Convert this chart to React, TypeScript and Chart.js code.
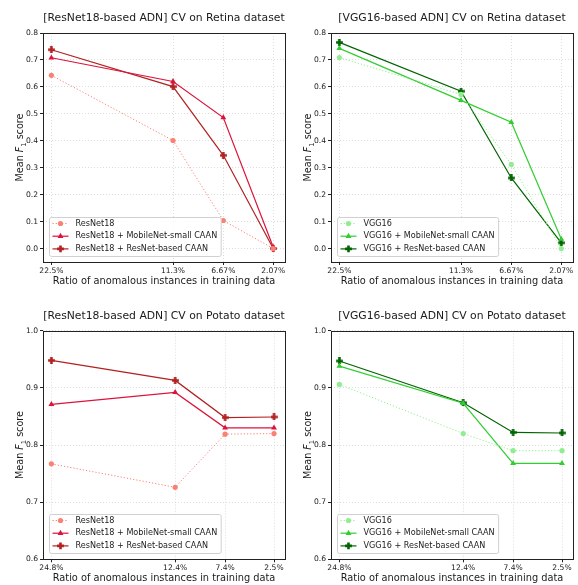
import React, { useEffect, useRef } from "react";
import { Chart, registerables } from "chart.js";
Chart.register(...registerables);

// ---------- data ----------
const retinaRatios = [22.5, 11.3, 6.67, 2.07];
const retinaTickLabels = ["22.5%", "11.3%", "6.67%", "2.07%"];
const potatoRatios = [24.8, 12.4, 7.4, 2.5];
const potatoTickLabels = ["24.8%", "12.4%", "7.4%", "2.5%"];

const retinaYTicks = [0.0, 0.1, 0.2, 0.3, 0.4, 0.5, 0.6, 0.7, 0.8];
const potatoYTicks = [0.6, 0.7, 0.8, 0.9, 1.0];

const retinaResNet18 = [0.643, 0.401, 0.104, 0.0];
const retinaResNet18Mobile = [0.708, 0.62, 0.486, 0.005];
const retinaResNet18ResNet = [0.738, 0.601, 0.346, 0.0];

const retinaVGG16 = [0.709, 0.572, 0.312, 0.0];
const retinaVGG16Mobile = [0.743, 0.55, 0.469, 0.035];
const retinaVGG16ResNet = [0.765, 0.584, 0.262, 0.021];

const potatoResNet18 = [0.767, 0.726, 0.819, 0.82];
const potatoResNet18Mobile = [0.871, 0.892, 0.83, 0.83];
const potatoResNet18ResNet = [0.948, 0.913, 0.848, 0.849];

const potatoVGG16 = [0.906, 0.82, 0.79, 0.79];
const potatoVGG16Mobile = [0.938, 0.873, 0.768, 0.768];
const potatoVGG16ResNet = [0.947, 0.874, 0.822, 0.821];

// ---------- styles ----------
const FONT = "'DejaVu Sans', sans-serif";
const TEXT = "#1a1a1a";

type Marker = "circle" | "triangle" | "plus";
type Series = { label: string; data: number[]; color: string; dotted: boolean; marker: Marker };
type Panel = {
  title: string;
  xs: number[];
  xLabels: string[];
  xMin: number;
  xMax: number;
  yMin: number;
  yMax: number;
  yTicks: number[];
  series: Series[];
  left: number;
  top: number;
  w: number;
  h: number;
  area: { l: number; r: number; t: number; b: number };
};

const RED_BASE = "#fa8072";
const RED_MOB = "#dc143c";
const RED_RES = "#b22222";
const GRN_BASE = "#90ee90";
const GRN_MOB = "#32cd32";
const GRN_RES = "#006400";

const panels: Panel[] = [
  {
    title: "[ResNet18-based ADN] CV on Retina dataset",
    xs: retinaRatios, xLabels: retinaTickLabels, xMin: 0.99, xMax: 23.27,
    yMin: -0.05, yMax: 0.8, yTicks: retinaYTicks,
    series: [
      { label: "ResNet18", data: retinaResNet18, color: RED_BASE, dotted: true, marker: "circle" },
      { label: "ResNet18 + MobileNet-small CAAN", data: retinaResNet18Mobile, color: RED_MOB, dotted: false, marker: "triangle" },
      { label: "ResNet18 + ResNet-based CAAN", data: retinaResNet18ResNet, color: RED_RES, dotted: false, marker: "plus" },
    ],
    left: 0, top: 0, w: 289, h: 290, area: { l: 43, r: 285, t: 33, b: 262 },
  },
  {
    title: "[VGG16-based ADN] CV on Retina dataset",
    xs: retinaRatios, xLabels: retinaTickLabels, xMin: 0.99, xMax: 23.27,
    yMin: -0.05, yMax: 0.8, yTicks: retinaYTicks,
    series: [
      { label: "VGG16", data: retinaVGG16, color: GRN_BASE, dotted: true, marker: "circle" },
      { label: "VGG16 + MobileNet-small CAAN", data: retinaVGG16Mobile, color: GRN_MOB, dotted: false, marker: "triangle" },
      { label: "VGG16 + ResNet-based CAAN", data: retinaVGG16ResNet, color: GRN_RES, dotted: false, marker: "plus" },
    ],
    left: 288, top: 0, w: 290, h: 290, area: { l: 43, r: 285, t: 33, b: 262 },
  },
  {
    title: "[ResNet18-based ADN] CV on Potato dataset",
    xs: potatoRatios, xLabels: potatoTickLabels, xMin: 1.4, xMax: 25.64,
    yMin: 0.6, yMax: 1.0, yTicks: potatoYTicks,
    series: [
      { label: "ResNet18", data: potatoResNet18, color: RED_BASE, dotted: true, marker: "circle" },
      { label: "ResNet18 + MobileNet-small CAAN", data: potatoResNet18Mobile, color: RED_MOB, dotted: false, marker: "triangle" },
      { label: "ResNet18 + ResNet-based CAAN", data: potatoResNet18ResNet, color: RED_RES, dotted: false, marker: "plus" },
    ],
    left: 0, top: 290, w: 289, h: 295, area: { l: 43, r: 285, t: 40.7, b: 269.3 },
  },
  {
    title: "[VGG16-based ADN] CV on Potato dataset",
    xs: potatoRatios, xLabels: potatoTickLabels, xMin: 1.4, xMax: 25.64,
    yMin: 0.6, yMax: 1.0, yTicks: potatoYTicks,
    series: [
      { label: "VGG16", data: potatoVGG16, color: GRN_BASE, dotted: true, marker: "circle" },
      { label: "VGG16 + MobileNet-small CAAN", data: potatoVGG16Mobile, color: GRN_MOB, dotted: false, marker: "triangle" },
      { label: "VGG16 + ResNet-based CAAN", data: potatoVGG16ResNet, color: GRN_RES, dotted: false, marker: "plus" },
    ],
    left: 288, top: 290, w: 290, h: 295, area: { l: 43, r: 285, t: 40.7, b: 269.3 },
  },
];

function plusPath(ctx: CanvasRenderingContext2D, x: number, y: number, r: number, t: number) {
  ctx.beginPath();
  ctx.moveTo(x - t, y - r);
  ctx.lineTo(x + t, y - r);
  ctx.lineTo(x + t, y - t);
  ctx.lineTo(x + r, y - t);
  ctx.lineTo(x + r, y + t);
  ctx.lineTo(x + t, y + t);
  ctx.lineTo(x + t, y + r);
  ctx.lineTo(x - t, y + r);
  ctx.lineTo(x - t, y + t);
  ctx.lineTo(x - r, y + t);
  ctx.lineTo(x - r, y - t);
  ctx.lineTo(x - t, y - t);
  ctx.closePath();
}

function plusImage(color: string): HTMLCanvasElement {
  const s = 7;
  const c = document.createElement("canvas");
  c.width = s;
  c.height = s;
  const ctx = c.getContext("2d")!;
  ctx.fillStyle = color;
  plusPath(ctx, s / 2, s / 2, 3.4, 1.3);
  ctx.fill();
  return c;
}

function drawMarker(ctx: CanvasRenderingContext2D, m: Marker, color: string, x: number, y: number) {
  ctx.save();
  ctx.fillStyle = color;
  if (m === "circle") {
    ctx.beginPath();
    ctx.arc(x, y, 2.6, 0, Math.PI * 2);
    ctx.fill();
  } else if (m === "triangle") {
    const r = 3.4;
    ctx.beginPath();
    ctx.moveTo(x, y - r);
    ctx.lineTo(x + r * 0.866, y + r * 0.5);
    ctx.lineTo(x - r * 0.866, y + r * 0.5);
    ctx.closePath();
    ctx.fill();
  } else {
    plusPath(ctx, x, y, 3.4, 1.3);
    ctx.fill();
  }
  ctx.restore();
}

function makeDecorPlugin(p: Panel) {
  return {
    id: "decor",
    afterDraw(chart: any) {
      const ctx: CanvasRenderingContext2D = chart.ctx;
      const a = chart.chartArea;
      ctx.save();
      // frame
      ctx.strokeStyle = "#222";
      ctx.lineWidth = 1;
      ctx.setLineDash([]);
      ctx.strokeRect(Math.round(a.left) + 0.5, Math.round(a.top) + 0.5, Math.round(a.right) - Math.round(a.left), Math.round(a.bottom) - Math.round(a.top));

      // title
      ctx.fillStyle = TEXT;
      ctx.textAlign = "center";
      ctx.textBaseline = "middle";
      ctx.font = `10.8px ${FONT}`;
      ctx.fillText(p.title, (a.left + a.right) / 2, a.top - 15);

      // x title
      ctx.font = `9.8px ${FONT}`;
      ctx.fillText("Ratio of anomalous instances in training data", (a.left + a.right) / 2, a.bottom + 19);

      // y title: Mean F_1 score
      ctx.save();
      ctx.translate(20, (a.top + a.bottom) / 2);
      ctx.rotate(-Math.PI / 2);
      const fs = 9.6;
      const normal = `${fs}px ${FONT}`;
      const italic = `italic ${fs}px ${FONT}`;
      const sub = `${fs * 0.7}px ${FONT}`;
      ctx.font = normal;
      const w1 = ctx.measureText("Mean ").width;
      const w4 = ctx.measureText(" score").width;
      ctx.font = italic;
      const w2 = ctx.measureText("F").width;
      ctx.font = sub;
      const w3 = ctx.measureText("1").width;
      let x = -(w1 + w2 + w3 + w4) / 2;
      ctx.textAlign = "left";
      ctx.textBaseline = "alphabetic";
      const base = fs * 0.36;
      ctx.font = normal;
      ctx.fillText("Mean ", x, base);
      x += w1;
      ctx.font = italic;
      ctx.fillText("F", x, base);
      x += w2;
      ctx.font = sub;
      ctx.fillText("1", x, base + fs * 0.22);
      x += w3;
      ctx.font = normal;
      ctx.fillText(" score", x, base);
      ctx.restore();

      // legend
      const lf = `8.1px ${FONT}`;
      ctx.font = lf;
      let maxW = 0;
      p.series.forEach((s) => (maxW = Math.max(maxW, ctx.measureText(s.label).width)));
      const bw = 26 + maxW + 4;
      const bh = 39;
      const bx = Math.round(a.left + 6) + 0.5;
      const by = Math.round(a.bottom - 6 - bh) + 0.5;
      ctx.beginPath();
      const rr = 2;
      ctx.moveTo(bx + rr, by);
      ctx.lineTo(bx + bw - rr, by);
      ctx.quadraticCurveTo(bx + bw, by, bx + bw, by + rr);
      ctx.lineTo(bx + bw, by + bh - rr);
      ctx.quadraticCurveTo(bx + bw, by + bh, bx + bw - rr, by + bh);
      ctx.lineTo(bx + rr, by + bh);
      ctx.quadraticCurveTo(bx, by + bh, bx, by + bh - rr);
      ctx.lineTo(bx, by + rr);
      ctx.quadraticCurveTo(bx, by, bx + rr, by);
      ctx.closePath();
      ctx.fillStyle = "rgba(255,255,255,0.8)";
      ctx.fill();
      ctx.strokeStyle = "#d0d0d0";
      ctx.lineWidth = 1;
      ctx.stroke();
      p.series.forEach((s, i) => {
        const cy = by + 6 + i * 12.7;
        ctx.strokeStyle = s.color;
        ctx.lineWidth = 1.2;
        ctx.setLineDash(s.dotted ? [1.2, 2] : []);
        ctx.beginPath();
        ctx.moveTo(bx + 3, cy);
        ctx.lineTo(bx + 19, cy);
        ctx.stroke();
        ctx.setLineDash([]);
        drawMarker(ctx, s.marker, s.color, bx + 11, cy);
        ctx.fillStyle = TEXT;
        ctx.font = lf;
        ctx.textAlign = "left";
        ctx.textBaseline = "middle";
        ctx.fillText(s.label, bx + 26, cy);
      });
      ctx.restore();
    },
  };
}

function PanelChart({ p }: { p: Panel }) {
  const ref = useRef<HTMLCanvasElement | null>(null);
  useEffect(() => {
    if (!ref.current) return;
    const plusImgs: Record<string, HTMLCanvasElement> = {};
    const datasets = p.series.map((s) => {
      let pointStyle: any = s.marker;
      if (s.marker === "plus") {
        plusImgs[s.color] = plusImgs[s.color] || plusImage(s.color);
        pointStyle = plusImgs[s.color];
      }
      return {
        label: s.label,
        data: s.data.map((v, i) => ({ x: p.xs[i], y: v })),
        borderColor: s.color,
        backgroundColor: s.color,
        borderWidth: s.dotted ? 1 : 1.2,
        borderDash: s.dotted ? [1.2, 2] : [],
        pointStyle,
        pointRadius: s.marker === "circle" ? 2.6 : 3.4,
        pointBorderWidth: 0,
        pointBackgroundColor: s.color,
        tension: 0,
        fill: false,
      };
    });
    const tickFont = { family: FONT, size: 7.6 };
    const grid = {
      color: "#d4d4d4",
      lineWidth: 0.8,
      drawTicks: true,
      tickLength: 3,
      tickColor: "#222",
      tickWidth: 1,
    };
    const chart = new Chart(ref.current, {
      type: "line",
      data: { datasets },
      options: {
        responsive: false,
        animation: false,
        devicePixelRatio: 1,
        layout: { padding: { top: p.area.t, right: p.w - p.area.r, left: 0, bottom: 0 } },
        plugins: { legend: { display: false }, tooltip: { enabled: false }, title: { display: false } },
        scales: {
          x: {
            type: "linear",
            reverse: true,
            min: p.xMin,
            max: p.xMax,
            afterFit: (s: any) => {
              s.height = p.h - p.area.b;
            },
            afterBuildTicks: (s: any) => {
              s.ticks = p.xs.map((v) => ({ value: v }));
            },
            ticks: {
              font: tickFont,
              color: TEXT,
              padding: 1,
              maxRotation: 0,
              autoSkip: false,
              callback: (v: any) => {
                const i = p.xs.indexOf(Number(v));
                return i >= 0 ? p.xLabels[i] : "";
              },
            },
            grid,
            border: { display: false, dash: [1, 2] },
          },
          y: {
            type: "linear",
            min: p.yMin,
            max: p.yMax,
            afterFit: (s: any) => {
              s.width = p.area.l;
            },
            afterBuildTicks: (s: any) => {
              s.ticks = p.yTicks.map((v) => ({ value: v }));
            },
            ticks: {
              font: tickFont,
              color: TEXT,
              padding: 2,
              callback: (v: any) => Number(v).toFixed(1),
            },
            grid,
            border: { display: false, dash: [1, 2] },
          },
        },
      } as any,
      plugins: [makeDecorPlugin(p)],
    });
    return () => chart.destroy();
  }, [p]);
  return (
    <canvas
      ref={ref}
      width={p.w}
      height={p.h}
      style={{ position: "absolute", left: p.left, top: p.top, width: p.w, height: p.h }}
    />
  );
}

export default function App() {
  return (
    <div style={{ position: "absolute", left: 0, top: 0, width: 578, height: 585, background: "#fff" }}>
      {panels.map((p, i) => (
        <PanelChart key={i} p={p} />
      ))}
    </div>
  );
}
